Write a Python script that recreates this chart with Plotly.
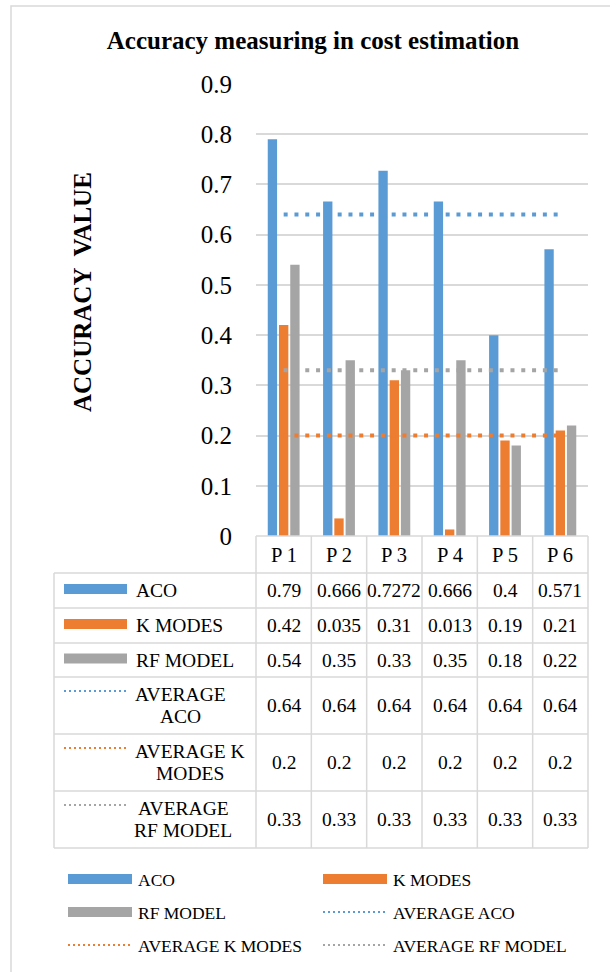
import plotly.graph_objects as go

# ---- data -----------------------------------------------------------------
categories = ["P 1", "P 2", "P 3", "P 4", "P 5", "P 6"]
aco = [0.79, 0.666, 0.7272, 0.666, 0.4, 0.571]
k_modes = [0.42, 0.035, 0.31, 0.013, 0.19, 0.21]
rf_model = [0.54, 0.35, 0.33, 0.35, 0.18, 0.22]
average_aco = [0.64, 0.64, 0.64, 0.64, 0.64, 0.64]
average_k_modes = [0.2, 0.2, 0.2, 0.2, 0.2, 0.2]
average_rf_model = [0.33, 0.33, 0.33, 0.33, 0.33, 0.33]

series_names = ["ACO", "K MODES", "RF MODEL",
                "AVERAGE ACO", "AVERAGE K MODES", "AVERAGE RF MODEL"]
table_labels = [["ACO"], ["K MODES"], ["RF MODEL"],
                ["AVERAGE", "ACO"], ["AVERAGE K", "MODES"], ["AVERAGE", "RF MODEL"]]
y_ticks = [0, 0.1, 0.2, 0.3, 0.4, 0.5, 0.6, 0.7, 0.8, 0.9]

series_values = [aco, k_modes, rf_model, average_aco, average_k_modes, average_rf_model]

# ---- styling --------------------------------------------------------------
BLUE, ORANGE, GRAY = "#5B9BD5", "#ED7D31", "#A5A5A5"
colors = [BLUE, ORANGE, GRAY, BLUE, ORANGE, GRAY]
kinds = ["bar", "bar", "bar", "line", "line", "line"]
FONT = "Liberation Serif"
GRID = "#D9D9D9"
W, H = 610, 972
CELL_SIZE = 19.5
LEGEND_SIZE = 17.5

# plot area in pixels
L, R, T, B = 256, 588, 84, 536

# approximate serif advance widths (em) for centring two-line labels
SERIF_W = {"A": .722, "C": .667, "D": .722, "E": .611, "F": .556, "G": .722,
           "K": .722, "L": .611, "M": .889, "O": .722, "R": .667, "S": .556,
           "V": .722, " ": .25}


def text_width(s, size):
    return sum(SERIF_W.get(ch, .6) for ch in s) * size


def px(x):
    return (x - L) / (R - L)


def py(y):
    return (B - y) / (B - T)


fig = go.Figure()

for name, vals, col, kind in zip(series_names, series_values, colors, kinds):
    if kind == "bar":
        fig.add_trace(go.Bar(x=categories, y=vals, name=name,
                             marker=dict(color=col, line=dict(width=0)),
                             showlegend=False))
    else:
        fig.add_trace(go.Scatter(x=categories, y=vals, name=name, mode="lines",
                                 line=dict(color=col, width=4, dash="4px,6.8px"),
                                 showlegend=False))

shapes = []
annotations = []

# outer chart frame
shapes.append(dict(type="rect", xref="paper", yref="paper",
                   x0=px(11), x1=px(640), y0=py(6), y1=py(1000),
                   line=dict(color=GRID, width=1.5)))

# ---- data table below the plot ----------------------------------------------
col_w = (R - L) / len(categories)
col_edges = [L + i * col_w for i in range(len(categories) + 1)]
row_edges = [536, 573, 608, 643, 677, 734, 791, 848]
table_left = 54
line_style = dict(color=GRID, width=1.5)

shapes.append(dict(type="line", xref="paper", yref="paper",
                   x0=px(L), x1=px(R), y0=py(row_edges[0]), y1=py(row_edges[0]),
                   line=line_style))
for ye in row_edges[1:]:
    shapes.append(dict(type="line", xref="paper", yref="paper",
                       x0=px(table_left), x1=px(R), y0=py(ye), y1=py(ye),
                       line=line_style))
shapes.append(dict(type="line", xref="paper", yref="paper",
                   x0=px(table_left), x1=px(table_left),
                   y0=py(row_edges[1]), y1=py(row_edges[-1]), line=line_style))
for xe in col_edges:
    shapes.append(dict(type="line", xref="paper", yref="paper",
                       x0=px(xe), x1=px(xe), y0=py(row_edges[0]), y1=py(row_edges[-1]),
                       line=line_style))

cell_font = dict(family=FONT, size=CELL_SIZE, color="#000000")
legend_font = dict(family=FONT, size=LEGEND_SIZE, color="#000000")

# header row: category names
hdr_mid = (row_edges[0] + row_edges[1]) / 2
for cat in categories:
    annotations.append(dict(x=cat, y=py(hdr_mid), xref="x", yref="paper",
                            text=cat, showarrow=False,
                            font=dict(family=FONT, size=20.5, color="#000000"),
                            xanchor="center", yanchor="middle"))


def swatch(kind, color, x0, x1, yc):
    if kind == "bar":
        return dict(type="line", xref="paper", yref="paper",
                    x0=px(x0), x1=px(x1), y0=py(yc), y1=py(yc),
                    line=dict(color=color, width=10))
    return dict(type="line", xref="paper", yref="paper",
                x0=px(x0), x1=px(x1), y0=py(yc), y1=py(yc),
                line=dict(color=color, width=2, dash="2px,3px"))


LABEL_X = 134
for i, (lines, vals, col, kind) in enumerate(zip(table_labels, series_values, colors, kinds)):
    top, bot = row_edges[i + 1], row_edges[i + 2]
    mid = (top + bot) / 2
    if len(lines) == 1:
        shapes.append(swatch(kind, col, 64, 127, mid - 1.5))
        annotations.append(dict(x=px(LABEL_X), y=py(mid), xref="paper", yref="paper",
                                text=lines[0], showarrow=False, font=cell_font,
                                xanchor="left", yanchor="middle"))
    else:
        shapes.append(swatch(kind, col, 64, 127, top + 14))
        block_w = max(text_width(s, CELL_SIZE) for s in lines)
        cx = LABEL_X + block_w / 2
        for j, s in enumerate(lines):
            annotations.append(dict(x=px(cx), y=py(mid - 11 + 22 * j),
                                    xref="paper", yref="paper",
                                    text=s, showarrow=False, font=cell_font,
                                    xanchor="center", yanchor="middle"))
    for cat, v in zip(categories, vals):
        annotations.append(dict(x=cat, y=py(mid), xref="x", yref="paper",
                                text=str(v), showarrow=False, font=cell_font,
                                xanchor="center", yanchor="middle"))

# ---- legend below the table ------------------------------------------------
legend_rows = [880, 913, 946]
legend_cols = [(68, 132, 136), (323, 387, 391)]
for i, (name, col, kind) in enumerate(zip(series_names, colors, kinds)):
    r, c = divmod(i, 2)
    x0, x1, xt = legend_cols[c]
    yc = legend_rows[r]
    shapes.append(swatch(kind, col, x0, x1, yc - 1))
    annotations.append(dict(x=px(xt), y=py(yc), xref="paper", yref="paper",
                            text=name, showarrow=False, font=legend_font,
                            xanchor="left", yanchor="middle"))

# vertical axis title
annotations.append(dict(x=px(82), y=py(292), xref="paper", yref="paper",
                        text="ACCURACY  VALUE", textangle=-90, showarrow=False,
                        font=dict(family=FONT, size=25, color="#000000", weight="bold"),
                        xanchor="center", yanchor="middle"))

fig.update_layout(
    width=W, height=H,
    margin=dict(l=L, r=W - R, t=T, b=H - B, autoexpand=False),
    paper_bgcolor="white", plot_bgcolor="white",
    barmode="group", bargap=0.39, bargroupgap=0.17,
    title=dict(text="Accuracy measuring in cost estimation",
               font=dict(family=FONT, size=25, color="#000000", weight="bold"),
               x=313 / W, y=1 - 40 / H, xref="container", yref="container",
               xanchor="center", yanchor="middle"),
    xaxis=dict(type="category", categoryorder="array", categoryarray=categories,
               range=[-0.5, len(categories) - 0.5], showticklabels=False,
               showgrid=False, zeroline=False, showline=False, ticks=""),
    yaxis=dict(range=[0, 0.9001], tickvals=y_ticks,
               ticktext=[f"{v:g}" for v in y_ticks],
               showgrid=True, gridcolor=GRID, gridwidth=1.5, zeroline=False,
               showline=False, ticks="", ticklabelstandoff=23,
               tickfont=dict(family=FONT, size=25, color="#000000")),
    shapes=shapes,
    annotations=annotations,
    showlegend=False,
)

fig.write_html("out.html")
